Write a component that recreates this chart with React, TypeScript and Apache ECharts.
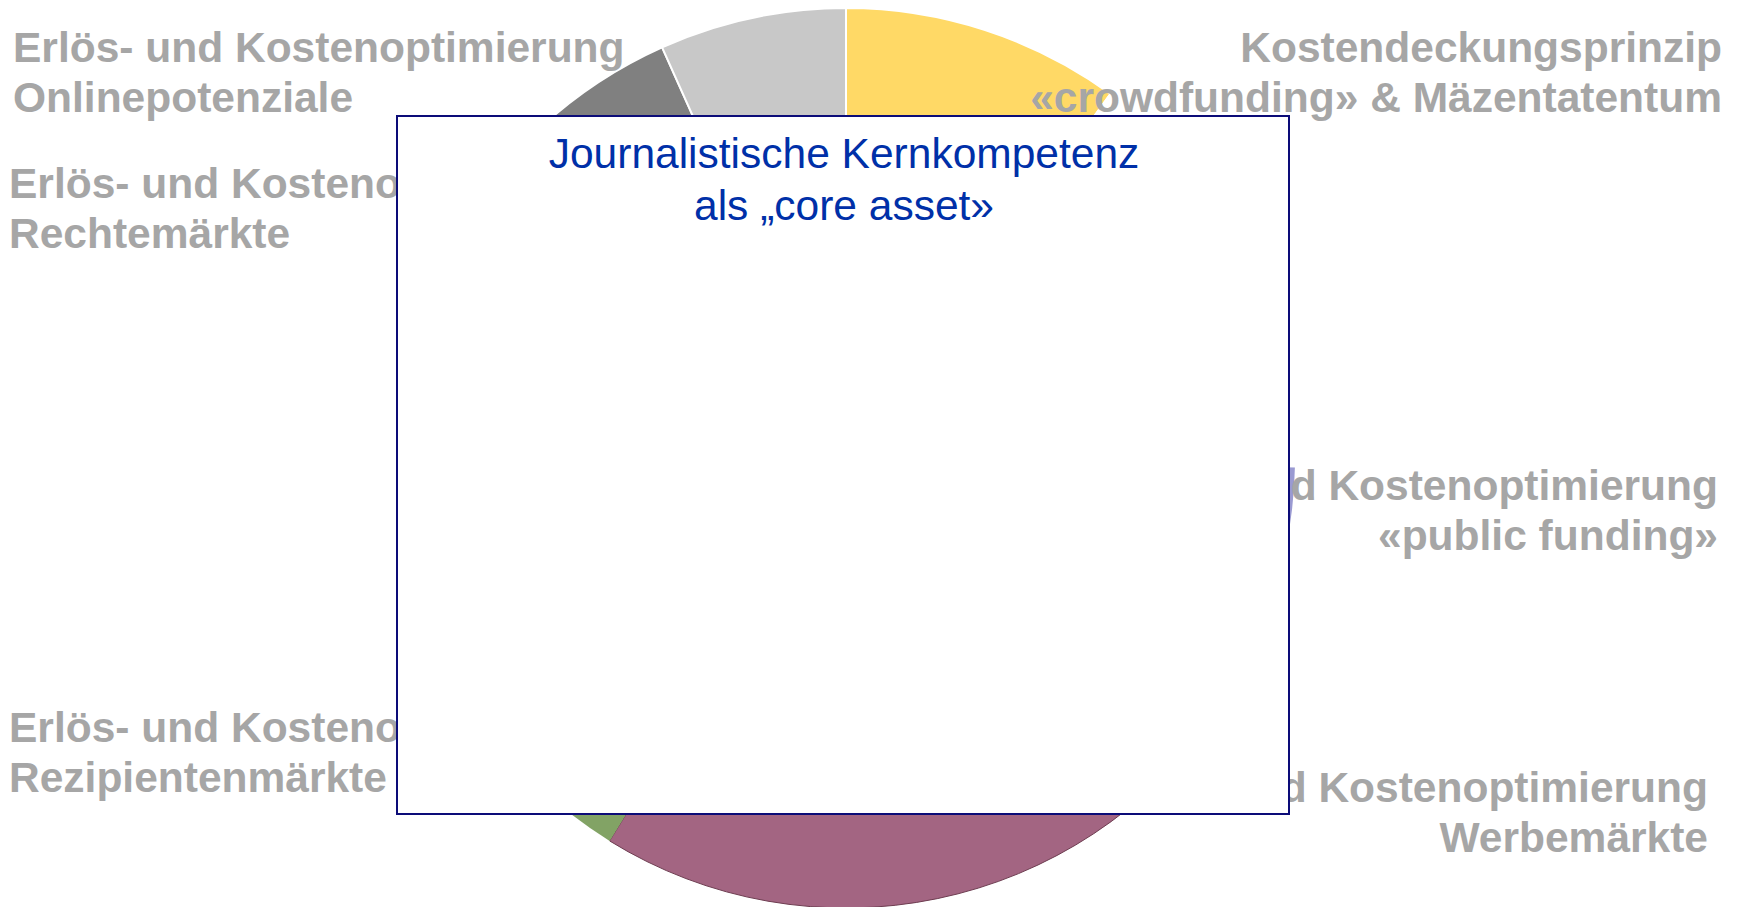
import React, { useEffect, useRef } from "react";
import * as echarts from "echarts";

// Slices, clockwise from 12 o'clock
const sliceNames = [
  "Kostendeckungsprinzip\n«crowdfunding» & Mäzentatentum",
  "",
  "Erlös- und Kostenoptimierung\n«public funding»",
  "Erlös- und Kostenoptimierung\nWerbemärkte",
  "Erlös- und Kostenoptimierung\nRezipientenmärkte",
  "Erlös- und Kostenoptimierung\nRechtemärkte",
  "Erlös- und Kostenoptimierung\nOnlinepotenziale",
];
const sliceValues = [10, 15.3, 9.4, 24.1, 13.4, 21.1, 6.7];
const sliceColors = ["#FFD966", "#FFFFFF", "#9A9AD2", "#A36582", "#82A365", "#808080", "#C8C8C8"];

const centerTitle = ["Journalistische Kernkompetenz", "als „core asset»"];

export default function App() {
  const ref = useRef<HTMLDivElement>(null);

  useEffect(() => {
    document.body.style.margin = "0";
    document.body.style.overflow = "hidden";
    const chart = echarts.init(ref.current!, undefined, { renderer: "svg" });

    // label anchor per slice (x, y center, align)
    const anchors: { x: number; y: number; align: string }[] = [
      { x: 1722, y: 72, align: "right" },
      { x: 0, y: 0, align: "left" },
      { x: 1718, y: 510, align: "right" },
      { x: 1708, y: 812, align: "right" },
      { x: 9, y: 752, align: "left" },
      { x: 9, y: 208, align: "left" },
      { x: 13, y: 72, align: "left" },
    ];

    const data = sliceNames.map((name, i) => ({
      name,
      value: sliceValues[i],
      itemStyle: {
        color: sliceColors[i],
        borderColor: i === 3 ? "#6e3d51" : i === 4 ? "#82A365" : "#ffffff",
        borderWidth: i === 3 ? 1 : i === 4 ? 0 : 2,
      },
      label: { show: name !== "" },
    }));

    chart.setOption({
      animation: false,
      backgroundColor: "#ffffff",
      series: [
        {
          type: "pie",
          center: [846, 458],
          radius: [0, 450],
          startAngle: 90,
          clockwise: true,
          avoidLabelOverlap: false,
          silent: true,
          data,
          label: {
            show: true,
            position: "outside",
            formatter: "{b}",
            color: "#A6A6A6",
            fontFamily: "Liberation Sans, Arial, sans-serif",
            fontWeight: "bold",
            fontSize: 42.5,
            lineHeight: 50,
          },
          labelLine: { show: false },
          labelLayout: (params: any) => {
            const a = anchors[params.dataIndex];
            return { x: a.x, y: a.y, align: a.align, verticalAlign: "middle" };
          },
        },
      ],
      graphic: [
        {
          type: "rect",
          z: 100,
          shape: { x: 397, y: 116, width: 892, height: 698 },
          style: { fill: "#ffffff", stroke: "#0c0c78", lineWidth: 2 },
        },
        {
          type: "text",
          z: 101,
          x: 844,
          y: 127,
          style: {
            text: centerTitle.join("\n"),
            fill: "#0030A8",
            font: "42.5px 'Liberation Sans', Arial, sans-serif",
            textAlign: "center",
            textVerticalAlign: "top",
            lineHeight: 52,
          },
        },
      ],
    });

    return () => chart.dispose();
  }, []);

  return <div ref={ref} style={{ width: 1742, height: 907 }} />;
}
